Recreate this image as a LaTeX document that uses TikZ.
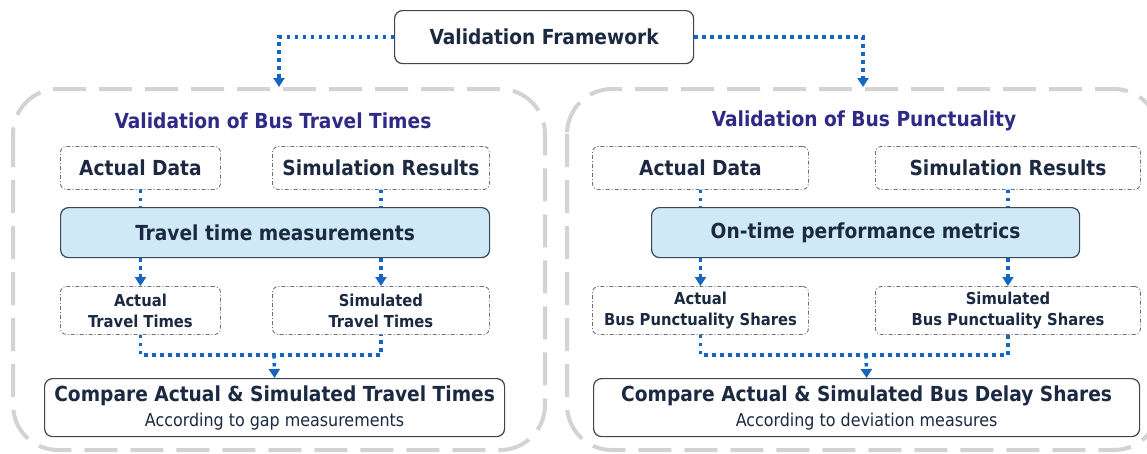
\documentclass[tikz,border=0pt]{standalone}
\usepackage{fontspec}
\setmainfont{DejaVu Sans Condensed}
\usetikzlibrary{arrows.meta}
\definecolor{navy}{HTML}{1B2A41}
\definecolor{titleblue}{HTML}{2F2A85}
\definecolor{flowblue}{HTML}{1466C0}
\definecolor{lightblue}{HTML}{CFE9F7}
\definecolor{contgray}{HTML}{D3D3D3}
\definecolor{ddgray}{HTML}{6B7079}
\definecolor{boxgray}{HTML}{3B4656}
\newcommand\bigfnt{\fontsize{20.7}{24}\selectfont\bfseries}
\newcommand\smfnt{\fontsize{16.4}{21}\selectfont\bfseries}
\newcommand\subfnt{\fontsize{17.7}{22}\selectfont\mdseries}
\tikzset{
  container/.style={draw=contgray, line width=4pt, dash pattern=on 33pt off 13pt, rounded corners=45pt},
  ddbox/.style={draw=ddgray, line width=0.9pt, dash pattern=on 4pt off 2pt on 1pt off 2pt, rounded corners=6pt, anchor=north west, inner sep=0pt, text=navy, align=center},
  bluebox/.style={draw=boxgray, fill=lightblue, line width=1.2pt, rounded corners=8pt, anchor=north west, inner sep=0pt, text=navy, font=\bigfnt},
  whitebox/.style={draw=boxgray, fill=white, line width=1.2pt, rounded corners=8pt, anchor=north west, inner sep=0pt, text=navy, align=center},
  titletext/.style={text=titleblue, font=\bigfnt, inner sep=0pt},
  dotline/.style={draw=flowblue, line width=3.5pt, dash pattern=on 3.5pt off 4.5pt},
  flow/.style={dotline, -{Triangle[width=11pt,length=9pt]}},
}
\begin{document}
\begin{tikzpicture}[x=1pt, y=-1pt]
\useasboundingbox (0,0) rectangle (1147,453);
\clip (0,0) rectangle (1147,453);
\fill[white] (0,0) rectangle (1147,453);

% containers
\draw[container] (13,89) rectangle (545,450);
\draw[container] (567,89) rectangle (1159,450);

% top node
\node[whitebox, minimum width=299pt, minimum height=53pt, font=\bigfnt] (vf) at (394,10) {Validation Framework};

% left side
\node[titletext] (t1) at (273,121) {Validation of Bus Travel Times};
\node[ddbox, minimum width=160pt, minimum height=43pt, font=\bigfnt] (ad1) at (60,146) {Actual Data};
\node[ddbox, minimum width=217pt, minimum height=43pt, font=\bigfnt] (sr1) at (272,146) {Simulation Results};
\node[bluebox, minimum width=429pt, minimum height=50pt] (ttm) at (60,207) {Travel time measurements};
\node[ddbox, minimum width=160pt, minimum height=48pt, font=\smfnt] (att) at (60,286) {Actual\\Travel Times};
\node[ddbox, minimum width=217pt, minimum height=48pt, font=\smfnt] (stt) at (272,286) {Simulated\\Travel Times};
\node[whitebox, minimum width=460pt, minimum height=58pt] (cmp1) at (44,378) {{\bigfnt Compare Actual \& Simulated Travel Times}\\[6pt]{\subfnt According to gap measurements}};

% right side
\node[titletext] (t2) at (864,121) {Validation of Bus Punctuality};
\node[ddbox, minimum width=216pt, minimum height=43pt, font=\bigfnt] (ad2) at (592,146) {Actual Data};
\node[ddbox, minimum width=265pt, minimum height=43pt, font=\bigfnt] (sr2) at (875,146) {Simulation Results};
\node[bluebox, minimum width=428pt, minimum height=50pt] (otp) at (651,207) {On-time performance metrics};
\node[ddbox, minimum width=216pt, minimum height=48pt, font=\smfnt] (abp) at (592,286) {Actual\\Bus Punctuality Shares};
\node[ddbox, minimum width=265pt, minimum height=48pt, font=\smfnt] (sbp) at (875,286) {Simulated\\Bus Punctuality Shares};
\node[whitebox, minimum width=546pt, minimum height=58pt] (cmp2) at (593,378) {{\bigfnt Compare Actual \& Simulated Bus Delay Shares}\\[6pt]{\subfnt According to deviation measures}};

% coordinates
\coordinate (lt) at (279,87);
\coordinate (rt) at (863,87);
\coordinate (j1) at (274,355);
\coordinate (j2) at (866,355);

% connectors from top
\draw[flow] (vf.west) -| (lt);
\draw[flow] (vf.east) -| (rt);

% left connectors
\draw[dotline] (ad1.south) -- (ad1.south |- ttm.north);
\draw[dotline] (sr1.south) -- (sr1.south |- ttm.north);
\draw[flow] (att.north |- ttm.south) -- (att.north);
\draw[flow] (stt.north |- ttm.south) -- (stt.north);
\draw[dotline] (att.south) |- (j1) -| (stt.south);
\draw[flow] (j1) -- (cmp1.north);

% right connectors
\draw[dotline] (ad2.south) -- (ad2.south |- otp.north);
\draw[dotline] (sr2.south) -- (sr2.south |- otp.north);
\draw[flow] (abp.north |- otp.south) -- (abp.north);
\draw[flow] (sbp.north |- otp.south) -- (sbp.north);
\draw[dotline] (abp.south) |- (j2) -| (sbp.south);
\draw[flow] (j2) -- (cmp2.north);
\end{tikzpicture}
\end{document}
